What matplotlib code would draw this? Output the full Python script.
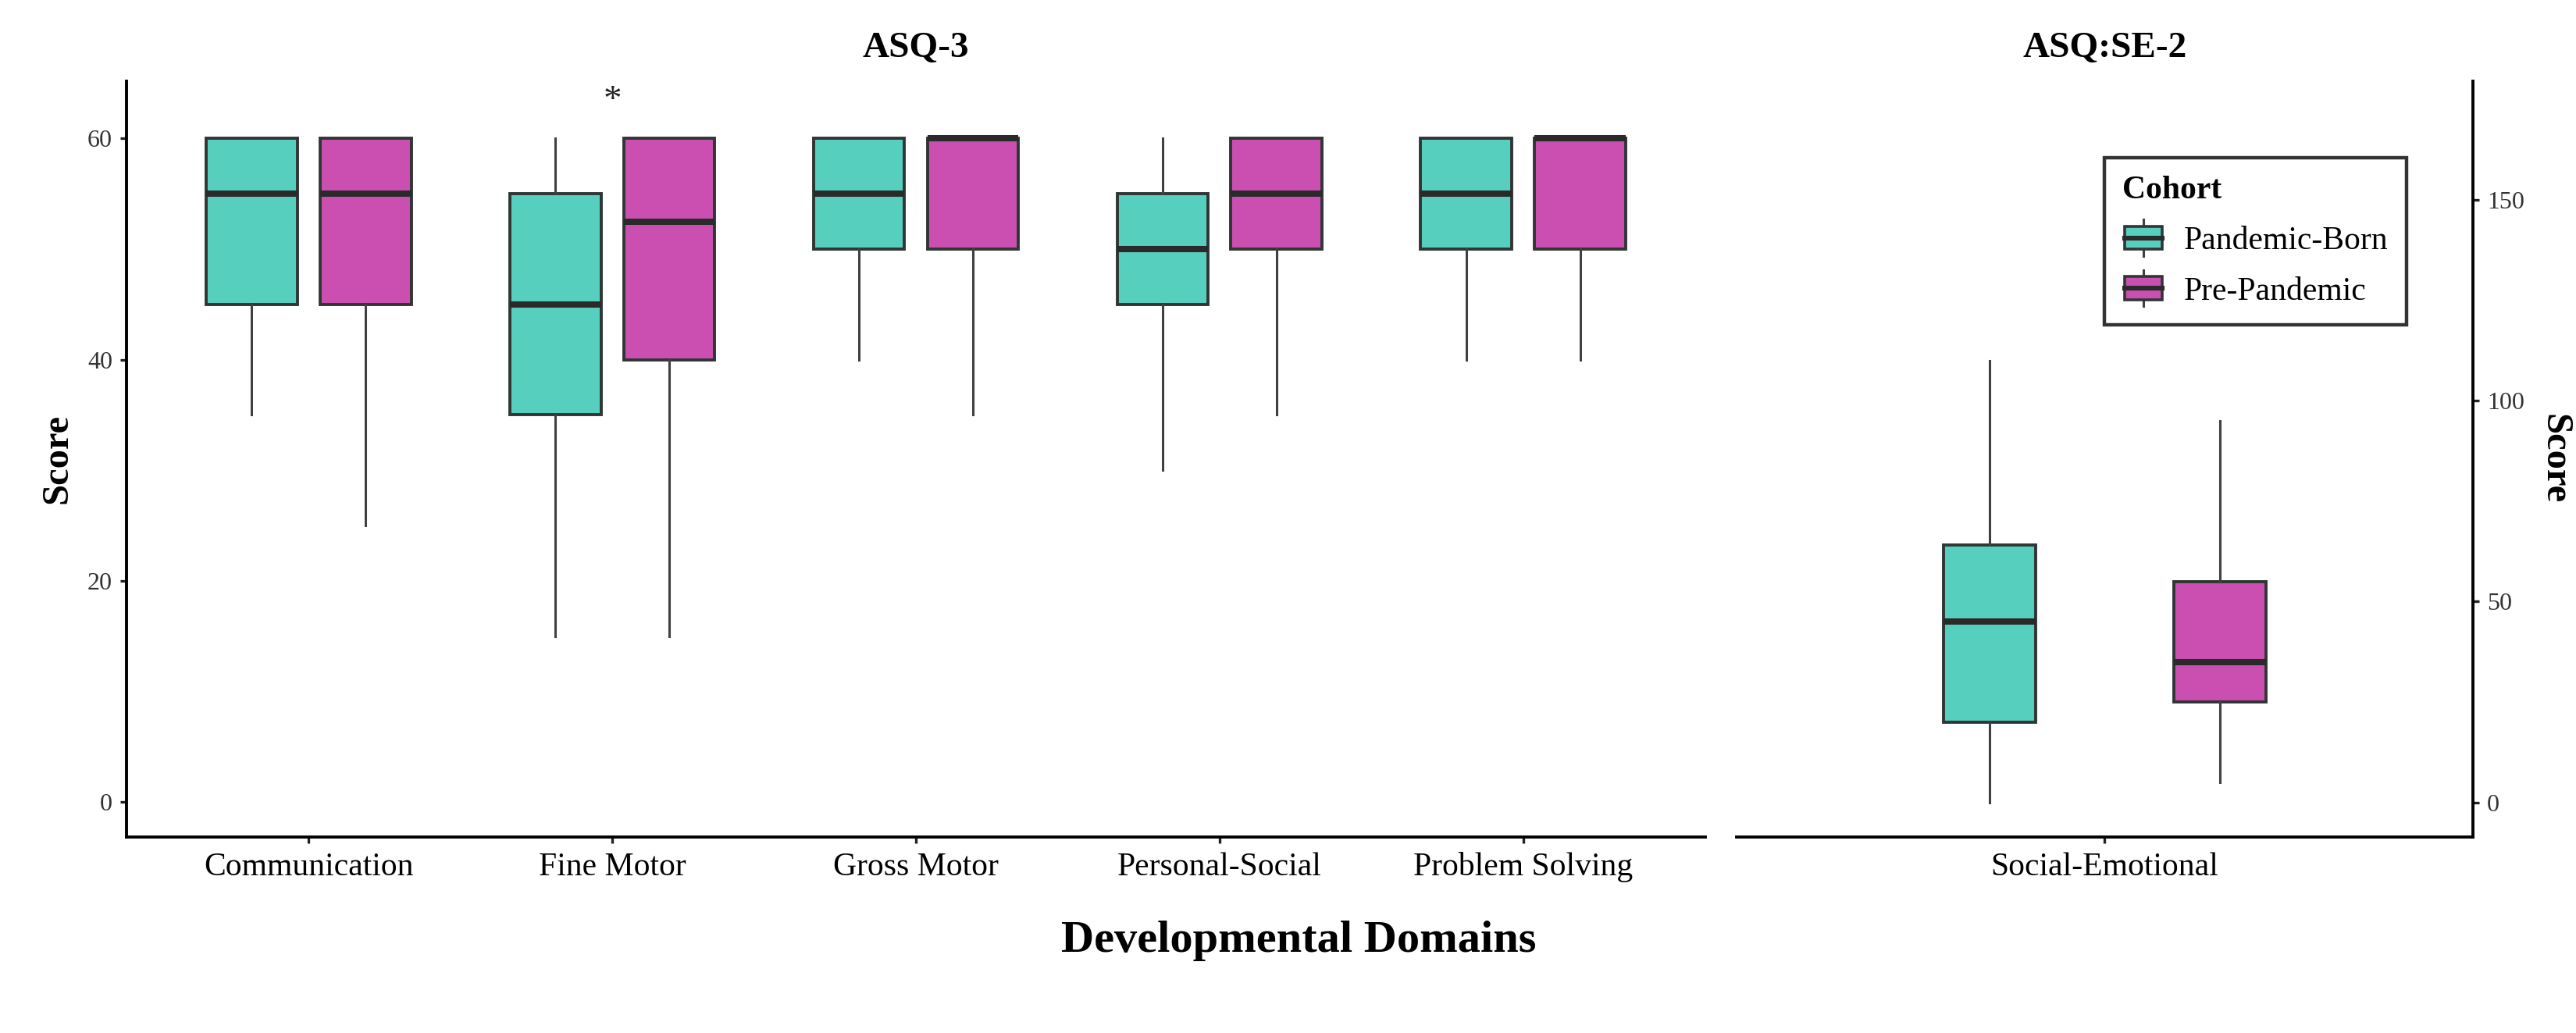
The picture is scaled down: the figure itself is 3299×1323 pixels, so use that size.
import matplotlib
matplotlib.use("Agg")
import matplotlib.pyplot as plt
from matplotlib.legend_handler import HandlerBase
from matplotlib.patches import Rectangle
from matplotlib.lines import Line2D

plt.rcParams['font.family'] = ['Liberation Serif', 'DejaVu Serif']

# ---------------- data ----------------
domains = ["Communication", "Fine Motor", "Gross Motor", "Personal-Social", "Problem Solving"]
cohorts = ["Pandemic-Born", "Pre-Pandemic"]

# ASQ-3 five-number summaries (whisker low, Q1, median, Q3, whisker high)
pb_low  = [35, 15, 40, 30, 40]
pb_q1   = [45, 35, 50, 45, 50]
pb_med  = [55, 45, 55, 50, 55]
pb_q3   = [60, 55, 60, 55, 60]
pb_high = [60, 60, 60, 60, 60]

pp_low  = [25, 15, 35, 35, 40]
pp_q1   = [45, 40, 50, 50, 50]
pp_med  = [55, 52.5, 60, 55, 60]
pp_q3   = [60, 60, 60, 60, 60]
pp_high = [60, 60, 60, 60, 60]

# ASQ:SE-2
se_domains = ["Social-Emotional"]
se_pb_low, se_pb_q1, se_pb_med, se_pb_q3, se_pb_high = [0], [20], [45], [64], [110]
se_pp_low, se_pp_q1, se_pp_med, se_pp_q3, se_pp_high = [5], [25], [35], [55], [95]

sig_domain = "Fine Motor"
sig_label = "*"
sig_value = 63.4

left_ticks = [0, 20, 40, 60]
right_ticks = [0, 50, 100, 150]

# ---------------- style ----------------
teal = "#57CFBF"
pink = "#CB4FB1"
edge = "#303535"
colors = [teal, pink]

fig = plt.figure(figsize=(16.495, 6.615), dpi=200)
ax1 = fig.add_axes([0.0491, 0.19, 0.6129, 0.7315])
ax2 = fig.add_axes([0.6741, 0.19, 0.2858, 0.7315])

def stats(lo, q1, med, q3, hi):
    return [dict(whislo=a, q1=b, med=c, q3=d, whishi=e, fliers=[])
            for a, b, c, d, e in zip(lo, q1, med, q3, hi)]

def draw(ax, st, positions, width, color):
    bp = ax.bxp(st, positions=positions, widths=width, patch_artist=True,
                showcaps=False, showfliers=False, manage_ticks=False,
                boxprops=dict(facecolor=color, edgecolor=edge, linewidth=1.4),
                medianprops=dict(color="#2a2a2a", linewidth=2.9, solid_capstyle='butt'),
                whiskerprops=dict(color="#404040", linewidth=1.1))
    return bp

dodge = 0.1875
x1 = list(range(1, len(domains) + 1))
draw(ax1, stats(pb_low, pb_q1, pb_med, pb_q3, pb_high), [x - dodge for x in x1], 0.30, teal)
draw(ax1, stats(pp_low, pp_q1, pp_med, pp_q3, pp_high), [x + dodge for x in x1], 0.30, pink)

x2 = list(range(1, len(se_domains) + 1))
draw(ax2, stats(se_pb_low, se_pb_q1, se_pb_med, se_pb_q3, se_pb_high), [x - dodge for x in x2], 0.15, teal)
draw(ax2, stats(se_pp_low, se_pp_q1, se_pp_med, se_pp_q3, se_pp_high), [x + dodge for x in x2], 0.15, pink)

# significance star
ax1.text(domains.index(sig_domain) + 1, sig_value, sig_label, ha='center', va='center',
         fontsize=17, color="#222222")

# axes setup
ax1.set_xlim(0.4, len(domains) + 0.6)
ax1.set_ylim(-3.15, 65.2)
ax1.set_xticks(x1)
ax1.set_xticklabels(domains, fontsize=15)
ax1.set_yticks(left_ticks)
ax1.set_yticklabels([str(t) for t in left_ticks], fontsize=11.5, color="#333333")
for s in ["top", "right"]:
    ax1.spines[s].set_visible(False)
for s in ["left", "bottom"]:
    ax1.spines[s].set_linewidth(1.4)
ax1.tick_params(axis='both', length=3, width=1.2, color="#222222")
ax1.tick_params(axis='x', pad=4)
ax1.set_ylabel("Score", fontsize=17.5, fontweight='bold', labelpad=6)
ax1.set_title("ASQ-3", fontsize=17, fontweight='bold', pad=11)

ax2.set_xlim(0.4, len(se_domains) + 0.6)
ax2.set_ylim(-8.5, 179.5)
ax2.set_xticks(x2)
ax2.set_xticklabels(se_domains, fontsize=15)
ax2.yaxis.tick_right()
ax2.yaxis.set_label_position("right")
ax2.set_yticks(right_ticks)
ax2.set_yticklabels([str(t) for t in right_ticks], fontsize=11.5, color="#333333")
for s in ["top", "left"]:
    ax2.spines[s].set_visible(False)
for s in ["right", "bottom"]:
    ax2.spines[s].set_linewidth(1.4)
ax2.tick_params(axis='both', length=3, width=1.2, color="#222222")
ax2.tick_params(axis='x', pad=4)
ax2.set_ylabel("Score", fontsize=17.5, fontweight='bold', rotation=-90, labelpad=14,
               va='center')
ax2.set_title("ASQ:SE-2", fontsize=17, fontweight='bold', pad=11)

fig.text(0.504, 0.089, "Developmental Domains", ha='center', va='center',
         fontsize=21, fontweight='bold')

# legend with boxplot glyphs
class BoxHandler(HandlerBase):
    def create_artists(self, legend, orig, xdescent, ydescent, width, height, fontsize, trans):
        fc = orig.get_facecolor()
        bw = width * 0.9
        x0 = -xdescent + (width - bw) / 2
        cy = -ydescent + height / 2
        bh = height * 0.8
        wl = height * 0.22
        rect = Rectangle((x0, cy - bh / 2), bw, bh, facecolor=fc, edgecolor=edge,
                         linewidth=1.3, transform=trans)
        med = Line2D([x0, x0 + bw], [cy, cy], color="#2a2a2a", linewidth=2.2, transform=trans)
        xm = x0 + bw / 2
        w1 = Line2D([xm, xm], [cy + bh / 2, cy + bh / 2 + wl], color="#404040",
                    linewidth=1.1, transform=trans)
        w2 = Line2D([xm, xm], [cy - bh / 2, cy - bh / 2 - wl], color="#404040",
                    linewidth=1.1, transform=trans)
        return [w1, w2, rect, med]

handles = [Rectangle((0, 0), 1, 1, facecolor=c) for c in colors]
leg = fig.legend(handles, cohorts, handler_map={Rectangle: BoxHandler()},
                 loc='upper left', bbox_to_anchor=(0.8169, 0.8473), borderaxespad=0,
                 title="Cohort", alignment='left', fontsize=15,
                 title_fontproperties=dict(weight='bold', size=15),
                 frameon=True, fancybox=False, edgecolor='black',
                 handlelength=1.3, handleheight=1.0, labelspacing=0.55,
                 borderpad=0.55, handletextpad=0.6)
leg.get_frame().set_linewidth(1.6)

fig.savefig("out.png", dpi=200, facecolor='white')
